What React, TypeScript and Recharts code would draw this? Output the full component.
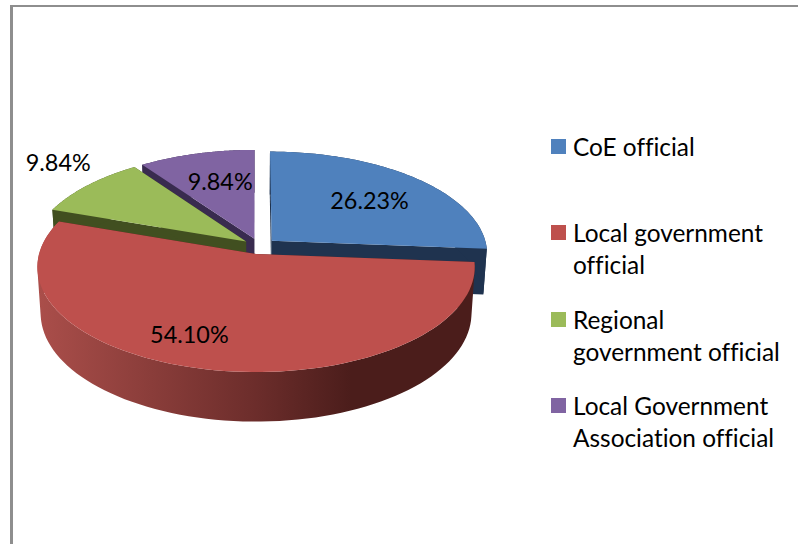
import React from 'react';
import { PieChart, Pie, Legend } from 'recharts';

const names = ['CoE official', 'Local government official', 'Regional government official', 'Local Government Association official'];
const values = [26.23, 54.1, 9.84, 9.84];
const topColors = ['#4f81bd', '#be504d', '#9bbb59', '#8064a2'];
const sideColors = ['#1f334f', '#4b1d1b', '#414f20', '#392b4f'];
const drawOrder = [3, 2, 0, 1];
const labelNudges = [[9, -2], [-38, 14], [-90, -45], [2, -4.5]];
const legendTops = [131, 217, 304, 390];
const font = 'Lato, sans-serif';
const labelFontSize = 23.4;
const legendFontSize = 24.4;

const data = names.map((name, i) => ({ name, value: values[i], fill: topColors[i] }));

const TILT = 103.4 / 217;
const PERSPECTIVE = 0.124;
const EXPLODE = 0.078;
const CENTER_U = 0.0162;
const CENTER_V = 0.0763;
const DEPTH = 46;
const rad = (d: number) => (d * Math.PI) / 180;

function projector(cx: number, cy: number, r: number) {
  return (u: number, v: number, bottom = false) => {
    const w = 1 + PERSPECTIVE * v;
    const x = (r * u) / w;
    const y = -(r * TILT * v) / w;
    return bottom ? [cx + x * 0.985, cy + y * 1.03 + DEPTH] : [cx + x, cy + y];
  };
}

const toPath = (pts: number[][]) =>
  pts.map((p, i) => `${i ? 'L' : 'M'}${p[0].toFixed(2)} ${p[1].toFixed(2)}`).join(' ') + ' Z';

const signedArea = (pts: number[][]) =>
  pts.reduce((sum, p, i) => {
    const q = pts[(i + 1) % pts.length];
    return sum + p[0] * q[1] - q[0] * p[1];
  }, 0);

function wallPath(top: number[][], bottom: number[][]) {
  const parts: string[] = [];
  for (let s = 0; s < top.length - 1; s++) {
    const quad = [top[s], top[s + 1], bottom[s + 1], bottom[s]];
    parts.push(toPath(signedArea(quad) < 0 ? [...quad].reverse() : quad));
  }
  return parts.join(' ');
}

function SliceShape(props: any) {
  const { cx, cy, outerRadius, startAngle, endAngle, midAngle, name } = props;
  const only = props.onlyName;
  if (name !== only) return <g />;
  const i = names.indexOf(name);
  const project = projector(cx, cy, outerRadius);
  const ou = CENTER_U + EXPLODE * Math.cos(rad(midAngle));
  const ov = CENTER_V + EXPLODE * Math.sin(rad(midAngle));
  const steps = 90;
  const arc = (bottom: boolean) => {
    const pts: number[][] = [];
    for (let s = 0; s <= steps; s++) {
      const a = rad(startAngle + ((endAngle - startAngle) * s) / steps);
      pts.push(project(ou + Math.cos(a), ov + Math.sin(a), bottom));
    }
    return pts;
  };
  const topArc = arc(false);
  const botArc = arc(true);
  const apexT = project(ou, ov, false);
  const apexB = project(ou, ov, true);
  const isRed = i === 1;
  const gradId = 'redWall';
  const wallFill = isRed ? `url(#${gradId})` : sideColors[i];
  return (
    <g>
      {isRed && (
        <defs>
          <linearGradient id={gradId} gradientUnits="userSpaceOnUse" x1={cx - outerRadius} x2={cx + outerRadius} y1={0} y2={0}>
            <stop offset="0" stopColor="#aa4e4a" />
            <stop offset="0.5" stopColor="#6c2d2b" />
            <stop offset="0.72" stopColor="#4b1d1b" />
            <stop offset="1" stopColor="#4b1d1b" />
          </linearGradient>
        </defs>
      )}
      <path d={toPath([apexT, topArc[0], botArc[0], apexB])} fill={sideColors[i]} />
      <path d={toPath([apexT, topArc[steps], botArc[steps], apexB])} fill={sideColors[i]} />
      <path d={wallPath(topArc, botArc)} fill={wallFill} />
      <path d={toPath([apexT, ...topArc])} fill={topColors[i]} />
    </g>
  );
}

function renderLabel(props: any) {
  const { cx, cy, outerRadius, midAngle, index, value } = props;
  const project = projector(cx, cy, outerRadius);
  const f = 0.678;
  const [x, y] = project(
    CENTER_U + f * Math.cos(rad(midAngle)),
    CENTER_V + f * Math.sin(rad(midAngle)),
  );
  return (
    <text
      x={x + labelNudges[index][0]}
      y={y + labelNudges[index][1]}
      textAnchor="middle"
      dominantBaseline="central"
      fontFamily={font}
      fontSize={labelFontSize}
      fill="#000"
    >
      {`${Number(value).toFixed(2)}%`}
    </text>
  );
}

function LegendContent() {
  return (
    <div style={{ position: 'relative', width: 247, height: 340 }}>
      {names.map((n, i) => (
        <div key={n} style={{ position: 'absolute', left: 0, top: legendTops[i] - 131, width: 247 }}>
          <span style={{ position: 'absolute', left: 0, top: 8, width: 15, height: 15, background: topColors[i] }} />
          <div style={{ marginLeft: 22, width: 220, fontFamily: font, fontSize: legendFontSize, fontVariantLigatures: 'none', lineHeight: '32px', color: '#000' }}>{n}</div>
        </div>
      ))}
    </div>
  );
}

export default function App() {
  return (
    <div style={{ position: 'absolute', left: 0, top: 0, width: 798, height: 544, overflow: 'hidden', background: '#fff' }}>
      <div style={{ position: 'absolute', left: 10, top: 5, width: 788, height: 539, borderLeft: '3px solid #8e8e8e', borderTop: '2px solid #8e8e8e', boxSizing: 'border-box' }} />
      <PieChart width={798} height={544} margin={{ top: 0, right: 0, bottom: 0, left: 0 }} style={{ position: 'absolute', left: 0, top: 0 }}>
        {drawOrder.map((idx, n) => {
          const shape = (p: any) => <SliceShape {...p} onlyName={names[idx]} />;
          return (
            <Pie
              key={names[idx]}
              data={data}
              dataKey="value"
              nameKey="name"
              cx={256}
              cy={254}
              outerRadius={217}
              startAngle={90}
              endAngle={-270}
              stroke="none"
              isAnimationActive={false}
              legendType={n === 0 ? 'square' : 'none'}
              shape={shape}
              activeShape={shape}
              inactiveShape={shape}
            />
          );
        })}
        <Pie
          data={data}
          dataKey="value"
          nameKey="name"
          cx={256}
          cy={254}
          outerRadius={217}
          startAngle={90}
          endAngle={-270}
          stroke="none"
          isAnimationActive={false}
          legendType="none"
          shape={() => <g />}
          activeShape={() => <g />}
          inactiveShape={() => <g />}
          label={renderLabel}
          labelLine={false}
        />
        <Legend
          content={<LegendContent />}
          layout="vertical"
          align="right"
          verticalAlign="top"
          wrapperStyle={{ position: 'absolute', left: 551, top: 131, width: 247, height: 340 }}
        />
      </PieChart>
    </div>
  );
}
